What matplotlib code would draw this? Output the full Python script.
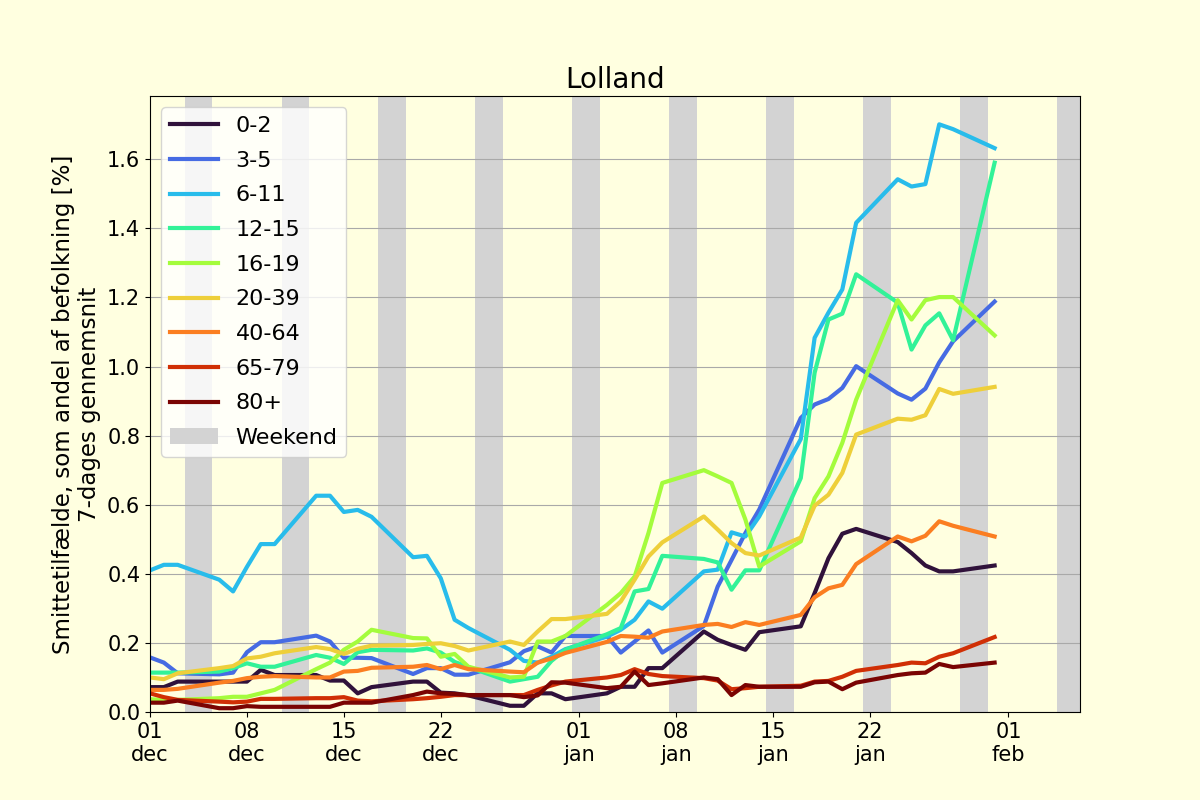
import numpy as np
import matplotlib
matplotlib.use('Agg')
import matplotlib.pyplot as plt

# ------------------------------  DATA  -----------------------------
dates = ['2021-12-01', '2021-12-02', '2021-12-03', '2021-12-06', '2021-12-07',
         '2021-12-08', '2021-12-09', '2021-12-10', '2021-12-13', '2021-12-14',
         '2021-12-15', '2021-12-16', '2021-12-17', '2021-12-20', '2021-12-21',
         '2021-12-22', '2021-12-23', '2021-12-24', '2021-12-27', '2021-12-28',
         '2021-12-29', '2021-12-30', '2021-12-31',
         '2022-01-03', '2022-01-04', '2022-01-05', '2022-01-06', '2022-01-07',
         '2022-01-10', '2022-01-11', '2022-01-12', '2022-01-13', '2022-01-14',
         '2022-01-17', '2022-01-18', '2022-01-19', '2022-01-20', '2022-01-21',
         '2022-01-24', '2022-01-25', '2022-01-26', '2022-01-27', '2022-01-28',
         '2022-01-31']

groups = ['0-2', '3-5', '6-11', '12-15', '16-19', '20-39', '40-64', '65-79', '80+']

age_0_2 = [0.072, 0.072, 0.088, 0.088, 0.088, 0.088, 0.122, 0.107, 0.107, 0.091,
           0.091, 0.054, 0.072, 0.088, 0.088, 0.056, 0.054, 0.048, 0.018, 0.018,
           0.054, 0.054, 0.037,
           0.054, 0.073, 0.073, 0.127, 0.127, 0.233, 0.209, 0.194, 0.180, 0.231,
           0.248, 0.344, 0.445, 0.516, 0.530, 0.492, 0.460, 0.424, 0.407, 0.407,
           0.424]
age_3_5 = [0.158, 0.143, 0.112, 0.109, 0.114, 0.173, 0.202, 0.202, 0.221, 0.204,
           0.157, 0.157, 0.156, 0.110, 0.127, 0.127, 0.108, 0.108, 0.144, 0.176,
           0.190, 0.172, 0.220,
           0.220, 0.172, 0.204, 0.236, 0.172, 0.249, 0.363, 0.440, 0.518, 0.586,
           0.851, 0.890, 0.906, 0.938, 1.001, 0.922, 0.904, 0.936, 1.012, 1.073,
           1.188]
age_6_11 = [0.410, 0.426, 0.426, 0.383, 0.349, 0.420, 0.486, 0.486, 0.626, 0.626,
            0.579, 0.585, 0.565, 0.448, 0.452, 0.387, 0.267, 0.243, 0.180, 0.148,
            0.143, 0.160, 0.182,
            0.218, 0.238, 0.267, 0.320, 0.299, 0.407, 0.412, 0.520, 0.508, 0.566,
            0.790, 1.083, 1.156, 1.223, 1.416, 1.542, 1.521, 1.528, 1.701, 1.687,
            1.632]
age_12_15 = [0.114, 0.114, 0.114, 0.117, 0.127, 0.141, 0.131, 0.131, 0.165, 0.157,
             0.139, 0.173, 0.180, 0.178, 0.184, 0.172, 0.145, 0.130, 0.088, 0.095,
             0.102, 0.148, 0.180,
             0.225, 0.243, 0.349, 0.356, 0.452, 0.443, 0.433, 0.354, 0.410, 0.410,
             0.677, 0.982, 1.136, 1.153, 1.267, 1.185, 1.049, 1.119, 1.154, 1.076,
             1.590]
age_16_19 = [0.037, 0.035, 0.035, 0.040, 0.044, 0.044, 0.054, 0.064, 0.124, 0.143,
             0.180, 0.204, 0.238, 0.214, 0.213, 0.160, 0.168, 0.131, 0.100, 0.102,
             0.204, 0.204, 0.220,
             0.310, 0.344, 0.392, 0.518, 0.663, 0.700, 0.682, 0.663, 0.557, 0.421,
             0.494, 0.619, 0.682, 0.779, 0.904, 1.192, 1.136, 1.192, 1.201, 1.201,
             1.090]
age_20_39 = [0.100, 0.095, 0.112, 0.127, 0.133, 0.155, 0.160, 0.170, 0.188, 0.182,
             0.168, 0.183, 0.192, 0.194, 0.197, 0.199, 0.191, 0.178, 0.204, 0.194,
             0.233, 0.269, 0.269,
             0.284, 0.320, 0.383, 0.450, 0.491, 0.566, 0.528, 0.489, 0.460, 0.453,
             0.505, 0.597, 0.629, 0.692, 0.803, 0.849, 0.846, 0.859, 0.935, 0.921,
             0.941]
age_40_64 = [0.064, 0.064, 0.067, 0.085, 0.090, 0.098, 0.102, 0.104, 0.100, 0.100,
             0.117, 0.119, 0.128, 0.131, 0.136, 0.124, 0.136, 0.124, 0.117, 0.115,
             0.143, 0.155, 0.171,
             0.203, 0.220, 0.218, 0.215, 0.233, 0.252, 0.255, 0.246, 0.260, 0.252,
             0.281, 0.332, 0.358, 0.368, 0.428, 0.508, 0.494, 0.510, 0.552, 0.539,
             0.508]
age_65_79 = [0.054, 0.043, 0.035, 0.030, 0.028, 0.030, 0.038, 0.038, 0.040, 0.040,
             0.043, 0.033, 0.031, 0.037, 0.040, 0.044, 0.049, 0.049, 0.049, 0.049,
             0.064, 0.077, 0.088,
             0.100, 0.107, 0.124, 0.110, 0.104, 0.098, 0.091, 0.066, 0.069, 0.073,
             0.076, 0.088, 0.090, 0.102, 0.119, 0.136, 0.143, 0.141, 0.160, 0.170,
             0.217]
age_80 = [0.027, 0.027, 0.033, 0.011, 0.011, 0.017, 0.015, 0.015, 0.015, 0.015,
          0.027, 0.027, 0.027, 0.049, 0.059, 0.054, 0.052, 0.049, 0.049, 0.043,
          0.048, 0.086, 0.085,
          0.069, 0.073, 0.117, 0.078, 0.083, 0.100, 0.095, 0.049, 0.078, 0.073,
          0.073, 0.086, 0.088, 0.066, 0.085, 0.107, 0.112, 0.114, 0.139, 0.130,
          0.143]

series = [age_0_2, age_3_5, age_6_11, age_12_15, age_16_19,
          age_20_39, age_40_64, age_65_79, age_80]

tick_dates = ['2021-12-01', '2021-12-08', '2021-12-15', '2021-12-22', '2022-01-01',
              '2022-01-08', '2022-01-15', '2022-01-22', '2022-02-01']
tick_labels = ['01\ndec', '08\ndec', '15\ndec', '22\ndec', '01\njan',
               '08\njan', '15\njan', '22\njan', '01\nfeb']

# ------------------------------  MAIN BODY  -----------------------------
bg = '#ffffe0'
plt.rcParams['font.size'] = 15
fig, ax = plt.subplots(figsize=(12, 8), dpi=100)
fig.patch.set_facecolor(bg)
ax.set_facecolor(bg)

x = np.array(dates, dtype='datetime64[D]')
colors = plt.cm.turbo(np.linspace(0, 1, len(groups)))
for vals, name, c in zip(series, groups, colors):
    ax.plot(x, vals, color=c, lw=3, label=name)

# weekend bands (sat + sun)
saturdays = np.arange('2021-12-04', '2022-02-06', 7, dtype='datetime64[D]')
half = np.timedelta64(12, 'h')
for i, sat in enumerate(saturdays):
    ax.axvspan(sat - half, sat + np.timedelta64(1, 'D') + half,
               color='lightgray', lw=0, label='Weekend' if i == 0 else None)

ax.grid(axis='y', color='darkgray')
ax.set_xlim(np.datetime64('2021-12-01T00:00'), np.datetime64('2022-02-06T04:00'))
ax.set_ylim(0, 1.783)
ax.set_yticks(np.arange(0, 1.61, 0.2))
ax.set_xticks(np.array(tick_dates, dtype='datetime64[D]'))
ax.set_xticklabels(tick_labels)
ax.set_ylabel('Smittetilfælde, som andel af befolkning [%]\n7-dages gennemsnit',
              fontsize=16.5)
ax.set_title('Lolland', fontsize=20)
ax.legend(loc='upper left', fontsize=16, labelspacing=0.66, handlelength=2.15)

plt.savefig('out.png', facecolor=bg)
